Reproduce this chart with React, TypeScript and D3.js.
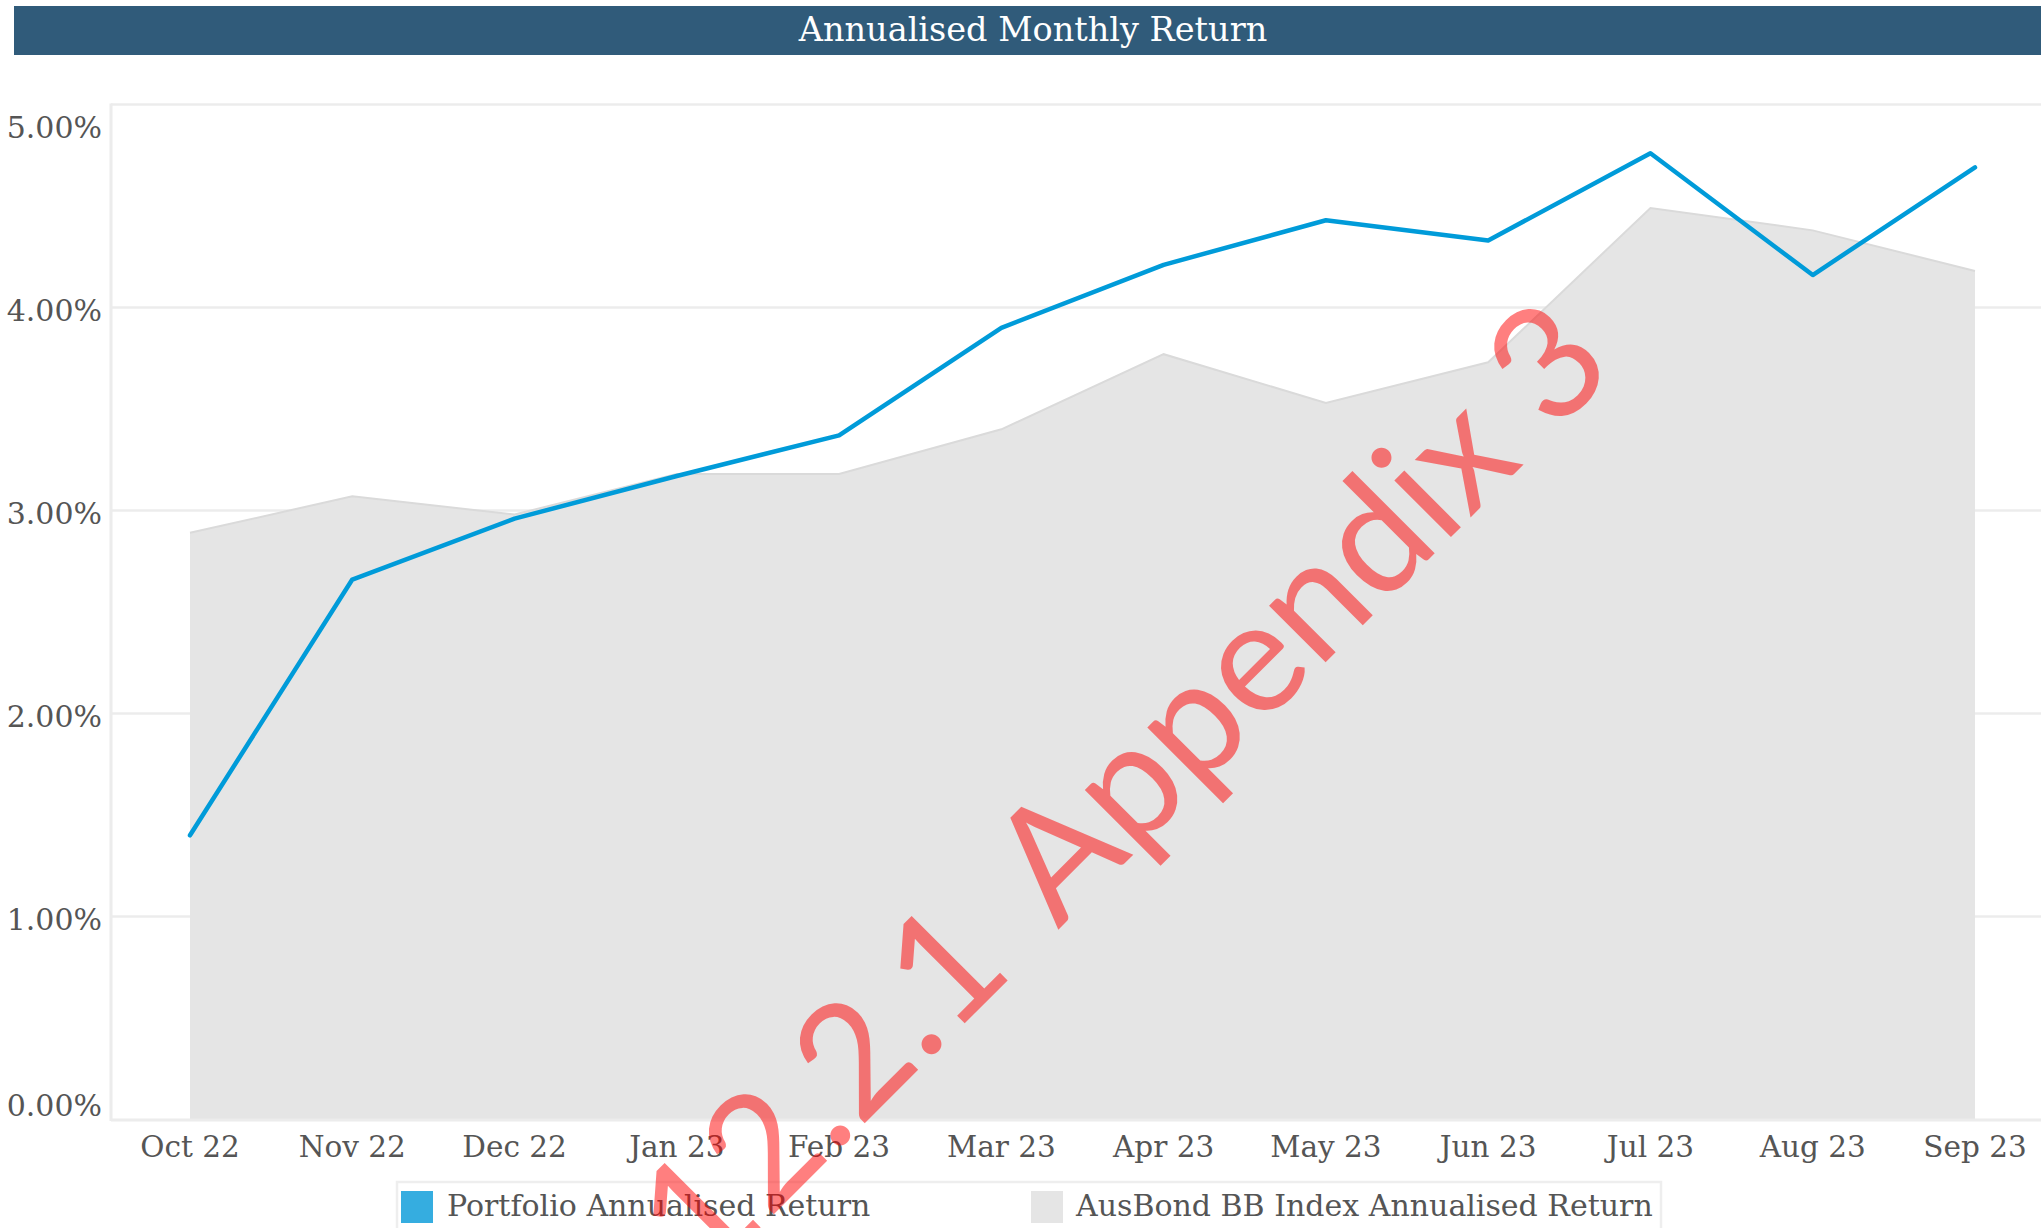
import React from "react";
import * as d3 from "d3";

const months = ["Oct 22","Nov 22","Dec 22","Jan 23","Feb 23","Mar 23","Apr 23","May 23","Jun 23","Jul 23","Aug 23","Sep 23"];
const portfolio = [1.40, 2.66, 2.96, 3.17, 3.37, 3.90, 4.21, 4.43, 4.33, 4.76, 4.16, 4.69];
const benchmark = [2.89, 3.07, 2.98, 3.18, 3.18, 3.40, 3.77, 3.53, 3.73, 4.49, 4.38, 4.18];
const yTicks = [0, 1, 2, 3, 4, 5];
const seriesNames = ["Portfolio Annualised Return", "AusBond BB Index Annualised Return"];
const title = "Annualised Monthly Return";
const watermarkA = "12.2.1";
const watermarkB = "Appendix 3";

const W = 2041, H = 1228;
const plotLeft = 111, plotTop = 104.5, plotBottom = 1119.5;
const serif = "'DejaVu Serif', serif";
const textColor = "#555555";

export default function App() {
  React.useEffect(() => {
    document.body.style.margin = "0";
    document.body.style.overflow = "hidden";
  }, []);

  const x = d3.scalePoint<string>().domain(months).range([190, 1975]);
  const y = d3.scaleLinear().domain([0, 5]).range([plotBottom, plotTop]);

  const pts = months.map((m, i) => ({ m, p: portfolio[i], b: benchmark[i] }));
  const area = d3.area<any>().x(d => x(d.m)!).y0(y(0)).y1(d => y(d.b));
  const bline = d3.line<any>().x(d => x(d.m)!).y(d => y(d.b));
  const pline = d3.line<any>().x(d => x(d.m)!).y(d => y(d.p));

  const labelY = (t: number) => {
    if (t === 5) return y(t) + 33;
    if (t === 0) return y(t) - 4;
    return y(t) + 13;
  };

  return (
    <svg width={W} height={H} style={{ position: "absolute", left: 0, top: 0, display: "block" }}>
      <rect x={0} y={0} width={W} height={H} fill="#ffffff" />
      {/* title bar */}
      <rect x={14} y={6} width={W} height={49} fill="#305b7a" />
      <text x={1033} y={41} textAnchor="middle" fill="#ffffff" fontFamily={serif} fontSize={33.5}>{title}</text>

      {/* gridlines */}
      {yTicks.filter(t => t > 0).map(t => (
        <line key={t} x1={plotLeft} x2={W} y1={y(t)} y2={y(t)} stroke="#ececec" strokeWidth={2.5} />
      ))}
      {/* area */}
      <path d={area(pts)!} fill="#e5e5e5" />
      <path d={bline(pts)!} fill="none" stroke="#dadada" strokeWidth={2} />
      {/* axes lines */}
      <line x1={plotLeft} x2={plotLeft} y1={plotTop - 1} y2={plotBottom + 1.5} stroke="#ececec" strokeWidth={3} />
      <line x1={plotLeft} x2={W} y1={plotBottom + 0.5} y2={plotBottom + 0.5} stroke="#ececec" strokeWidth={3} />

      {/* y labels */}
      {yTicks.map(t => (
        <text key={t} x={102} y={labelY(t)} textAnchor="end" fill={textColor} fontFamily={serif} fontSize={30}>
          {d3.format(".2f")(t) + "%"}
        </text>
      ))}
      {/* x labels */}
      {months.map(m => (
        <text key={m} x={x(m)} y={1157} textAnchor="middle" fill={textColor} fontFamily={serif} fontSize={29.5}>{m}</text>
      ))}

      {/* portfolio line */}
      <path d={pline(pts)!} fill="none" stroke="#009bd9" strokeWidth={4.5} strokeLinejoin="round" strokeLinecap="round" />

      {/* legend */}
      <rect x={397} y={1182} width={1264} height={80} fill="#ffffff" stroke="#eeeeee" strokeWidth={2.5} />
      <rect x={401} y={1191} width={32} height={32} fill="#35ade0" />
      <text x={447} y={1216} fill={textColor} fontFamily={serif} fontSize={30}>{seriesNames[0]}</text>
      <rect x={1031} y={1191} width={32} height={32} fill="#e5e5e5" />
      <text x={1076} y={1216} fill={textColor} fontFamily={serif} fontSize={30}>{seriesNames[1]}</text>

      {/* watermark */}
      <g transform="translate(1058,930) rotate(-45)" fill="#ff0000" fillOpacity={0.5} fontFamily="Lato, 'Noto Sans', sans-serif" fontSize={158}>
        <text x={-60} y={0} textAnchor="end">{watermarkA}</text>
        <text x={0} y={0}>{watermarkB}</text>
      </g>
    </svg>
  );
}
